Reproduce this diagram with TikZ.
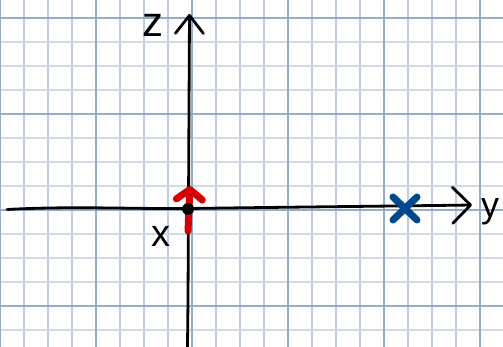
\documentclass[tikz,border=0pt]{standalone}
\usepackage{fontspec}
\setsansfont{Liberation Sans}
\usetikzlibrary{arrows.meta,shapes.misc}
\definecolor{minorH}{RGB}{210,218,232}
\definecolor{minorV}{RGB}{194,205,226}
\definecolor{majorG}{RGB}{150,170,204}
\definecolor{penred}{RGB}{214,0,0}
\definecolor{penblue}{RGB}{0,72,142}
\tikzset{
  minorv/.style={minorV, line width=1.6pt},
  minorh/.style={minorH, line width=2pt},
  majorl/.style={majorG, line width=2.2pt},
  axis/.style={black, line width=2.8pt, line cap=round, line join=round},
  barb/.style={-{Straight Barb[length=#1, width=28pt, line cap=round, line join=round]}},
  label/.style={inner sep=0pt, font=\sffamily\fontsize{38}{38}\selectfont},
}
\begin{document}
\begin{tikzpicture}[x=1pt, y=-1pt]
\useasboundingbox (0,0) rectangle (503,347);
\fill[white] (0,0) rectangle (503,347);
% grid paper
\foreach \i in {1,...,20} \draw[minorv] (24*\i,0) -- (24*\i,347);
\foreach \j in {0,...,13} \draw[minorh] (0,17.7+24*\j) -- (503,17.7+24*\j);
\foreach \i in {0,96,192,288,384,480} \draw[majorl] (\i,0) -- (\i,347);
\foreach \j in {17.7,113.7,209.7,305.7} \draw[majorl] (0,\j) -- (503,\j);
% axes
\coordinate (zb) at (187.5,347);
\coordinate (zt) at (189.5,14);
\coordinate (ya) at (7,209.5);
\coordinate (ym) at (188,208.5);
\coordinate (yt) at (472,205);
\draw[axis, barb=18pt] (zb) -- (188,300) -- (zt);
\draw[axis, -{Straight Barb[length=18pt, width=36pt, line cap=round, line join=round]}]
  (ya) .. controls (70,206) and (130,209) .. (ym) .. controls (300,207) and (400,206) .. (yt);
% labels
\node[label, font=\sffamily\fontsize{42}{42}\selectfont] (zl) at (153,25) {z};
\node[label] (xl) at (161,236) {x};
\node[label, font=\sffamily\fontsize{36}{36}\selectfont] (yl) at (490,211.5) {y};
% red arrow
\coordinate (rs) at (188,231);
\coordinate (rt) at (190,186);
\draw[penred, line width=7pt, line cap=round,
  -{Straight Barb[length=10pt, width=26pt, line cap=round, line join=round]}] (rs) -- (rt);
% origin dot
\node[circle, fill=black, minimum size=12pt, inner sep=0pt] (O) at (188,209) {};
% blue cross
\node[cross out, draw=penblue, line width=7pt, line cap=round,
  minimum width=24pt, minimum height=23pt, inner sep=0pt, outer sep=0pt] (B) at (405,208.5) {};
\end{tikzpicture}
\end{document}
